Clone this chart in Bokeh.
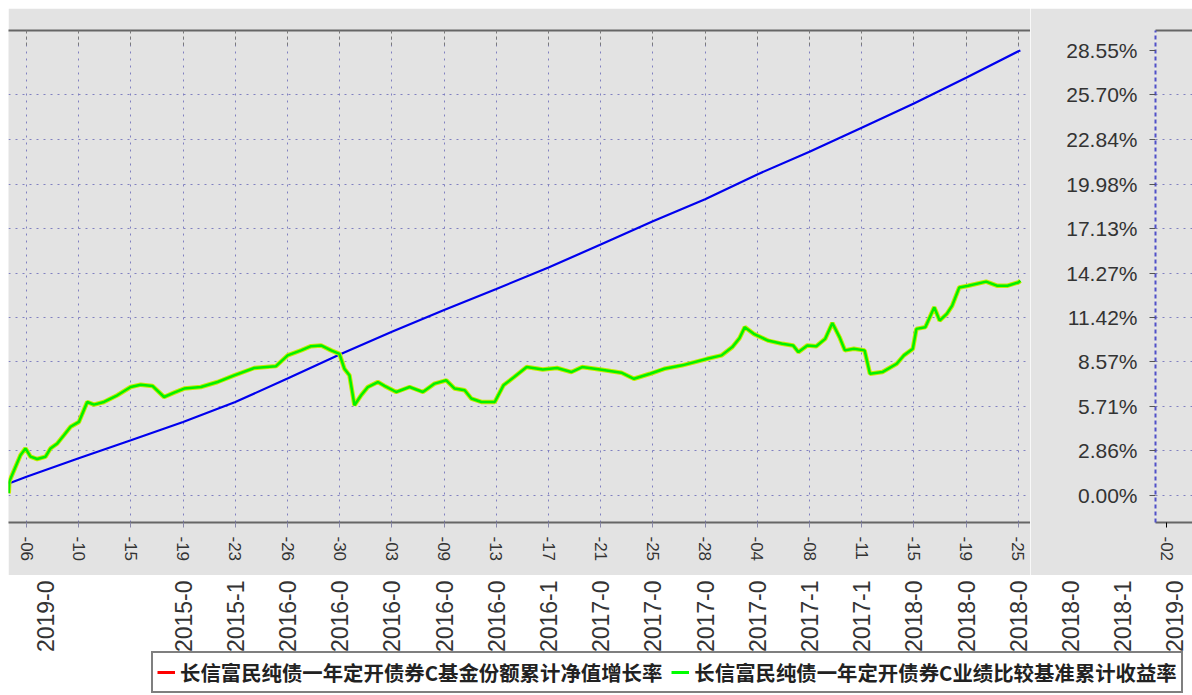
import math
from bokeh.plotting import figure
from bokeh.models import (Range1d, FixedTicker, LinearAxis, PrintfTickFormatter,
                          Legend, LegendItem, Spacer)
from bokeh.layouts import row, column
from bokeh.core.properties import value
from bokeh.embed import file_html
from bokeh.resources import INLINE

# ---------------- data ----------------
x_ticks = list(range(20))
x_day_labels = ["-06", "-10", "-15", "-19", "-23", "-26", "-30", "-03", "-09", "-13",
                "-17", "-21", "-25", "-28", "-04", "-08", "-11", "-15", "-19", "-25"]
lower_labels = ["2019-0", "2015-0", "2015-1", "2016-0", "2016-0", "2016-0", "2016-0",
                "2016-0", "2016-1", "2017-0", "2017-0", "2017-0", "2017-0", "2017-1",
                "2017-1", "2018-0", "2018-0", "2018-0", "2018-0", "2018-1", "2019-0"]
lower_pos = [0.36, 3, 4, 5, 6, 7, 8, 9, 10, 11, 12, 13, 14, 15, 16, 17, 18, 19, 20, 21, 22]
frag_tick = [0.3]
frag_label = ["-02"]
y_tick_vals = [0.0, 2.86, 5.71, 8.57, 11.42, 14.27, 17.13, 19.98, 22.84, 25.70, 28.55]

blue_t = [-0.34, 0, 1, 2, 3, 4, 5, 6, 7, 8, 9, 10, 11, 12, 13, 14, 15, 16, 17, 18, 19, 19.04]
blue_v = [0.77, 1.20, 2.39, 3.55, 4.72, 6.0, 7.5, 9.05, 10.5, 11.9, 13.25, 14.63, 16.1,
          17.6, 19.0, 20.6, 22.05, 23.6, 25.15, 26.8, 28.5, 28.55]

green_t = [-0.34, -0.33, -0.115, -0.02, 0.077, 0.205, 0.365, 0.46, 0.59, 0.717, 0.845,
           1.004, 1.164, 1.292, 1.484, 1.74, 1.996, 2.188, 2.412, 2.636, 2.828, 3.02,
           3.34, 3.66, 3.98, 4.363, 4.78, 5.003, 5.259, 5.451, 5.643, 5.835, 5.995, 6.09,
           6.187, 6.283, 6.411, 6.539, 6.731, 6.859, 7.083, 7.339, 7.594, 7.818, 8.042,
           8.202, 8.394, 8.522, 8.714, 8.97, 9.137, 9.342, 9.582, 9.89, 10.164, 10.438,
           10.644, 10.986, 11.397, 11.637, 11.945, 12.219, 12.562, 13.041, 13.315, 13.521,
           13.658, 13.76, 13.932, 14.205, 14.479, 14.685, 14.788, 14.959, 15.13, 15.301,
           15.438, 15.575, 15.678, 15.849, 16.055, 16.158, 16.397, 16.671, 16.808, 16.979,
           17.048, 17.219, 17.39, 17.493, 17.63, 17.733, 17.87, 18.041, 18.384, 18.589,
           18.795, 19.0, 19.04]
green_v = [0.14, 0.89, 2.59, 3.02, 2.49, 2.34, 2.49, 3.02, 3.34, 3.87, 4.41, 4.72, 6.0,
           5.83, 6.0, 6.43, 6.96, 7.11, 7.03, 6.32, 6.60, 6.86, 6.96, 7.28, 7.71, 8.18,
           8.30, 8.99, 9.31, 9.58, 9.63, 9.31, 9.09, 8.13, 7.71, 5.79, 6.43, 6.96, 7.28,
           7.03, 6.64, 6.96, 6.64, 7.18, 7.39, 6.86, 6.75, 6.22, 6.0, 6.0, 7.07, 7.60,
           8.24, 8.09, 8.18, 7.92, 8.24, 8.09, 7.88, 7.49, 7.81, 8.13, 8.35, 8.77, 8.99,
           9.52, 10.09, 10.80, 10.37, 9.94, 9.73, 9.63, 9.20, 9.63, 9.58, 10.05, 11.07,
           10.16, 9.31, 9.41, 9.31, 7.81, 7.92, 8.45, 8.99, 9.41, 10.69, 10.80, 12.08,
           11.22, 11.65, 12.18, 13.35, 13.46, 13.72, 13.46, 13.46, 13.67, 13.78]

label_red = "长信富民纯债一年定开债券C基金份额累计净值增长率"
label_green = "长信富民纯债一年定开债券C业绩比较基准累计收益率"

# ---------------- styling / geometry ----------------
BG = "#e3e3e3"
GRID = "#8080c0"
AXIS = "#666666"
TXT = "#333333"
FONT = "Liberation Sans"

TICK_PX = 52.2
P1_W, P1_H = 1022, 567
PF_W = 162
P2_W, P2_H = 1184, 120
TOP_B, BOT_B = 22, 53
x_lo = -18 / TICK_PX
x_hi = x_lo + P1_W / TICK_PX
PX_PER_PCT = 445 / 28.55
y_lo = -27 / PX_PER_PCT
y_hi = 28.55 + 20 / PX_PER_PCT
yr = Range1d(y_lo, y_hi)

# ---------------- main plot ----------------
p1 = figure(width=P1_W, height=P1_H, x_range=Range1d(x_lo, x_hi), y_range=yr,
            output_backend="svg", toolbar_location=None, y_axis_location=None)
p1.min_border_left = 0
p1.min_border_right = 0
p1.min_border_top = TOP_B
p1.min_border_bottom = BOT_B
p1.background_fill_color = BG
p1.border_fill_color = BG
p1.outline_line_color = None

xa = p1.xaxis[0]
xa.ticker = FixedTicker(ticks=x_ticks)
xa.major_label_overrides = {t: l for t, l in zip(x_ticks, x_day_labels)}
xa.major_label_orientation = "vertical"
xa.major_label_text_font = FONT
xa.major_label_text_font_size = "17px"
xa.major_label_text_color = TXT
xa.major_label_standoff = 9
xa.axis_line_color = AXIS
xa.axis_line_width = 2
xa.major_tick_out = 5
xa.major_tick_in = 0
xa.major_tick_line_color = "#8888aa"
xa.minor_tick_line_color = None

top_ax = LinearAxis(ticker=FixedTicker(ticks=x_ticks),
                    major_label_overrides={t: "" for t in x_ticks},
                    major_label_standoff=0, axis_line_color=AXIS, axis_line_width=2,
                    major_tick_in=18, major_tick_out=0, major_tick_line_color="#7a7a7a",
                    major_tick_line_dash="3 3", minor_tick_line_color=None)
p1.add_layout(top_ax, "above")

p1.xgrid.ticker = FixedTicker(ticks=x_ticks)
p1.ygrid.ticker = FixedTicker(ticks=y_tick_vals[:-1])
for g in (p1.xgrid[0], p1.ygrid[0]):
    g.grid_line_color = GRID
    g.grid_line_dash = "2 5"
    g.grid_line_width = 1

p1.line(blue_t, blue_v, line_color="#0000ee", line_width=2.2)
p1.line(green_t, green_v, line_color="#c8ec00", line_width=4.5)
p1.line(green_t, green_v, line_color="#00f000", line_width=2.5)

# ---------------- right fragment with the value axis ----------------
pf = figure(width=PF_W, height=P1_H, x_range=Range1d(0, 1), y_range=yr,
            output_backend="svg", toolbar_location=None)
pf.min_border_left = 125
pf.min_border_right = 0
pf.min_border_top = TOP_B
pf.min_border_bottom = BOT_B
pf.background_fill_color = BG
pf.border_fill_color = BG
pf.outline_line_color = None
pf.xgrid.visible = False
pf.ygrid.ticker = FixedTicker(ticks=y_tick_vals[:-1])
pf.ygrid[0].grid_line_color = GRID
pf.ygrid[0].grid_line_dash = "2 5"

ya = pf.yaxis[0]
ya.ticker = FixedTicker(ticks=y_tick_vals)
ya.formatter = PrintfTickFormatter(format="%.2f%%")
ya.major_label_text_font = FONT
ya.major_label_text_font_size = "21px"
ya.major_label_text_color = TXT
ya.major_label_standoff = 12
ya.axis_line_color = "#5050c8"
ya.axis_line_width = 2
ya.axis_line_dash = "4 3"
ya.major_tick_out = 6
ya.major_tick_in = 0
ya.major_tick_line_color = "#555555"
ya.minor_tick_line_color = None

fxa = pf.xaxis[0]
fxa.ticker = FixedTicker(ticks=frag_tick)
fxa.major_label_overrides = {t: l for t, l in zip(frag_tick, frag_label)}
fxa.major_label_orientation = "vertical"
fxa.major_label_text_font = FONT
fxa.major_label_text_font_size = "17px"
fxa.major_label_text_color = TXT
fxa.major_label_standoff = 9
fxa.axis_line_color = AXIS
fxa.axis_line_width = 2
fxa.major_tick_out = 5
fxa.major_tick_in = 0
fxa.minor_tick_line_color = None
pf.add_layout(LinearAxis(ticker=FixedTicker(ticks=[]), axis_line_color=AXIS,
                         axis_line_width=2, major_tick_line_color=None,
                         minor_tick_line_color=None), "above")

# ---------------- lower label row + legend ----------------
p2_ylo, p2_yhi = -3.0, -2.0           # window kept clear of the data so the legend renderers stay hidden
LABEL_Y = p2_yhi - 5 / P2_H * (p2_yhi - p2_ylo)
p2 = figure(width=P2_W, height=P2_H, x_range=Range1d(x_lo, x_lo + P2_W / TICK_PX),
            y_range=Range1d(p2_ylo, p2_yhi), x_axis_location=None, y_axis_location=None,
            output_backend="svg", toolbar_location=None)
p2.min_border_left = 0
p2.min_border_right = 0
p2.min_border_top = 0
p2.min_border_bottom = 0
p2.outline_line_color = None
p2.grid.visible = False
p2.background_fill_color = "white"
p2.border_fill_color = "white"

p2.text(x=lower_pos, y=[LABEL_Y] * len(lower_pos), text=lower_labels, angle=math.pi / 2,
        text_align="right", text_baseline="middle", text_font=value(FONT),
        text_font_size="23px", text_color=TXT)

r_red = p2.line(green_t, green_v, line_color="#ff0000", line_width=3)
r_green = p2.line(green_t, green_v, line_color="#00ff00", line_width=3)
legend = Legend(items=[LegendItem(label=label_red, renderers=[r_red]),
                       LegendItem(label=label_green, renderers=[r_green])],
                location=(143, 2), orientation="horizontal")
legend.margin = 0
legend.padding = 4
legend.spacing = 9
legend.glyph_width = 18
legend.glyph_height = 24
legend.label_height = 24
legend.label_standoff = 5
legend.label_text_font = "Noto Sans CJK SC"
legend.label_text_font_size = "20.4px"
legend.label_text_font_style = "bold"
legend.label_text_color = "#222222"
legend.border_line_color = "black"
legend.border_line_width = 2
legend.background_fill_color = "white"
legend.background_fill_alpha = 1
p2.add_layout(legend)

body = column(row(p1, pf), p2)
layout = column(Spacer(height=8), row(Spacer(width=8), body))
open("out.html", "w").write(file_html(layout, INLINE))
